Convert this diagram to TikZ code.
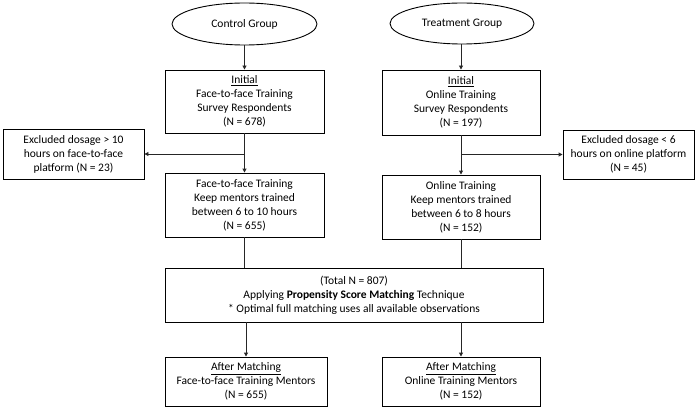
\documentclass[tikz,border=0pt]{standalone}
\usepackage{fontspec}
\setmainfont{Carlito}
\usetikzlibrary{arrows.meta,shapes.geometric}
\begin{document}
\begin{tikzpicture}[x=1pt,y=-1pt,
  box/.style={draw, line width=0.9pt, align=center, inner sep=0pt, font=\fontsize{11.5}{14}\selectfont},
  oval/.style={draw, ellipse, line width=0.9pt, inner sep=0pt, font=\fontsize{11.5}{14}\selectfont},
  link/.style={line width=0.9pt, draw=black!85},
  arr/.style={link, -{Triangle[length=4pt,width=4pt]}}]
\useasboundingbox (0,0) rectangle (700,409);
\node[oval, minimum width=145pt, minimum height=42pt] (cg) at (244.5,24) {Control Group};
\node[oval, minimum width=144pt, minimum height=41pt] (tg) at (462,23.5) {Treatment Group};
\node[box, minimum width=159pt, minimum height=63pt] (i1) at (244.5,101.5) {\underline{Initial}\\Face-to-face Training\\Survey Respondents\\(N = 678)};
\node[box, minimum width=158pt, minimum height=65pt] (i2) at (461,102.5) {\underline{Initial}\\Online Training\\Survey Respondents\\(N = 197)};
\node[box, minimum width=141pt, minimum height=50pt] (e1) at (73.5,154) {Excluded dosage > 10\\hours on face-to-face\\platform (N = 23)};
\node[box, minimum width=131pt, minimum height=49pt] (e2) at (628.5,154.5) {Excluded dosage < 6\\hours on online platform\\(N = 45)};
\node[box, minimum width=159pt, minimum height=64pt] (s1) at (244.5,205) {Face-to-face Training\\Keep mentors trained\\between 6 to 10 hours\\(N = 655)};
\node[box, minimum width=158pt, minimum height=64pt] (s2) at (461,207) {Online Training\\Keep mentors trained\\between 6 to 8 hours\\(N = 152)};
\node[box, minimum width=378pt, minimum height=54pt] (psm) at (354,295) {(Total N = 807)\\Applying \textbf{Propensity Score Matching} Technique\\* Optimal full matching uses all available observations};
\node[box, minimum width=162pt, minimum height=49pt] (a1) at (246,381.5) {\underline{After Matching}\\Face-to-face Training Mentors\\(N = 655)};
\node[box, minimum width=158pt, minimum height=49pt] (a2) at (461,381.5) {\underline{After Matching}\\Online Training Mentors\\(N = 152)};
\draw[arr] (cg) -- (cg |- i1.north);
\draw[arr] (tg.south -| i2) -- (i2.north);
\draw[arr] (i1.south) -- (s1.north);
\draw[arr] (i2.south) -- (s2.north);
\coordinate (j1) at (i1.south |- e1.east);
\coordinate (j2) at (i2.south |- e2.west);
\draw[arr] (j1) -- (e1.east);
\draw[arr] (j2) -- (e2.west);
\draw[link] (s1.south) -- (s1.south |- psm.north);
\draw[link] (s2.south) -- (s2.south |- psm.north);
\draw[arr] (a1.north |- psm.south) -- (a1.north);
\draw[arr] (a2.north |- psm.south) -- (a2.north);
\end{tikzpicture}
\end{document}
